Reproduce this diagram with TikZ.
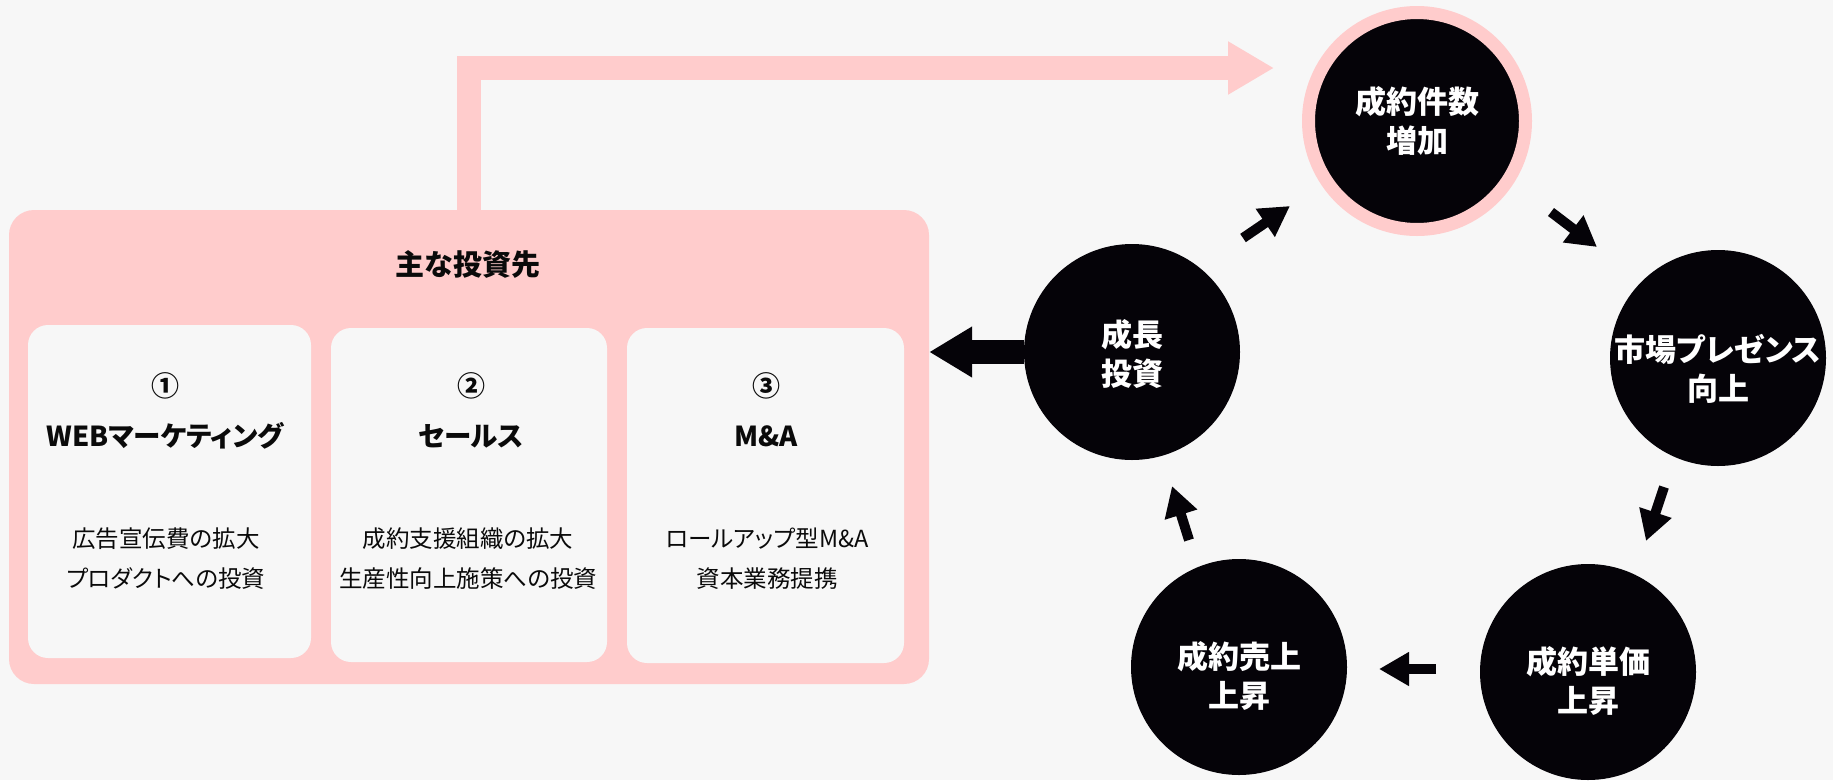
\documentclass[tikz,border=0pt]{standalone}
\usepackage{fontspec}
\setmainfont{Noto Sans CJK JP}[RawFeature={+palt}]
\usetikzlibrary{arrows.meta,calc}
\definecolor{bgc}{HTML}{F7F7F7}
\definecolor{pinkc}{HTML}{FFCCCC}
\definecolor{blkc}{HTML}{050308}
\definecolor{txtc}{HTML}{0A0A0A}
\begin{document}
\begin{tikzpicture}[x=1pt,y=-1pt,
  outerbox/.style={fill=pinkc, rounded corners=25pt, minimum width=920pt, minimum height=474pt, inner sep=0pt},
  card/.style={fill=bgc, rounded corners=20pt, inner sep=0pt},
  circ/.style={circle, fill=blkc, minimum size=216pt, inner sep=0pt},
  ctext/.style={text=white, align=center, inner sep=0pt, font=\bfseries\fontsize{31}{39}\selectfont},
  ttl/.style={text=txtc, font=\bfseries\fontsize{29}{34}\selectfont},
  num/.style={text=txtc, font=\bfseries\fontsize{28}{30}\selectfont},
  head/.style={text=txtc, font=\bfseries\fontsize{27.5}{32}\selectfont},
  body/.style={text=txtc, font=\fontsize{23.5}{28}\selectfont},
  pinkarrow/.style={draw=pinkc, line width=24pt, -{Triangle[length=46pt,width=50pt]}},
  bigarrow/.style={draw=blkc, line width=24pt, -{Triangle[length=43pt,width=48pt]}},
  smallarrow/.style={draw=blkc, line width=10pt, -{Triangle[length=30pt,width=32pt]}}
]
\fill[bgc] (0,0) rectangle (1833,780);
\useasboundingbox (0,0) rectangle (1833,780);

% investment box
\node[outerbox] (box) at (469,447) {};
\node[ttl] (title) at (468,264) {主な投資先};
\node[card, minimum width=283pt, minimum height=333pt] (c1) at (169.5,491.5) {};
\node[card, minimum width=276pt, minimum height=334pt] (c2) at (469,495) {};
\node[card, minimum width=277pt, minimum height=335pt] (c3) at (765.5,495.5) {};

\node[num] (n1) at (165,386) {①};
\node[num] (n2) at (471,386) {②};
\node[num] (n3) at (766,386) {③};
\node[head] (h1) at (165,436) {WEBマーケティング};
\node[head] (h2) at (471,436) {セールス};
\node[head] (h3) at (766,436) {M\&A};
\node[body] (b1a) at (166,539) {広告宣伝費の拡大};
\node[body] (b1b) at (166,579) {プロダクトへの投資};
\node[body] (b2a) at (468,539) {成約支援組織の拡大};
\node[body] (b2b) at (468,579) {生産性向上施策への投資};
\node[body] (b3a) at (767,539) {ロールアップ型M\&A};
\node[body] (b3b) at (767,579) {資本業務提携};

% cycle
\node[circ, draw=pinkc, line width=13pt, minimum size=217pt,
      label={[ctext]center:{成約件数\\増加}}] (n) at (1417,121) {};
\node[circ, label={[ctext, yshift=-11pt]center:{市場プレゼンス\\向上}}] (m) at (1718,358) {};
\node[circ, label={[ctext, yshift=-9pt]center:{成約単価\\上昇}}] (u) at (1588,672) {};
\node[circ, label={[ctext, yshift=-9pt]center:{成約売上\\上昇}}] (s) at (1239,667) {};
\node[circ, label={[ctext, yshift=-2pt]center:{成長\\投資}}] (g) at (1132,352) {};

\coordinate (topend) at (1274,68);
\draw[pinkarrow] (box.north) |- (topend);
\draw[bigarrow] (g.west) -- (g.west -| box.east);

\draw[smallarrow] ($(g)+(111,-114)$) -- ($(n)+(-127,85)$);
\draw[smallarrow] ($(n)+(134,91)$) -- ($(m)+(-121,-111)$);
\draw[smallarrow] ($(m)+(-54,129)$) -- ($(u)+(58,-131)$);
\draw[smallarrow] ($(u)+(-152,-3)$) -- ($(s)+(140,2)$);
\draw[smallarrow] ($(s)+(-50,-127)$) -- ($(g)+(40,134)$);
\end{tikzpicture}
\end{document}
